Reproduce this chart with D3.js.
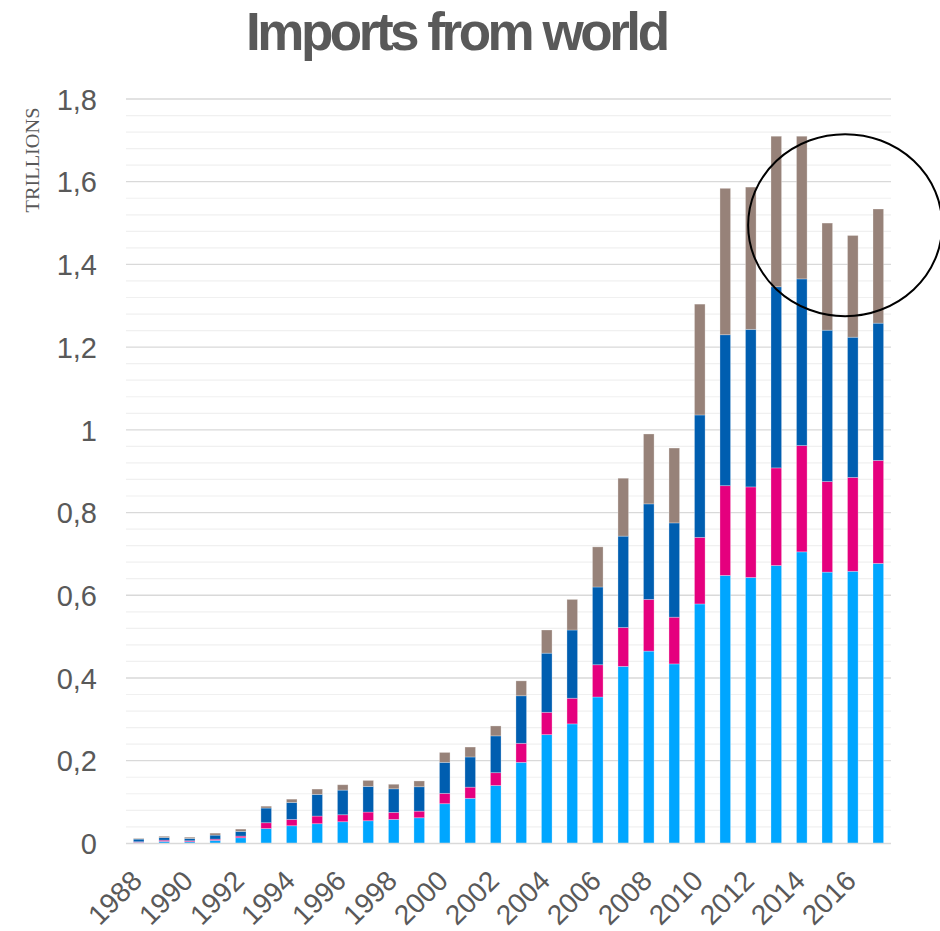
<!DOCTYPE html>
<html>
<head>
<meta charset="utf-8">
<script src="https://cdn.jsdelivr.net/npm/d3@7"></script>
<style>
  html, body { margin: 0; padding: 0; background: #fff; }
  svg { display: block; }
</style>
</head>
<body>
<svg id="chart" width="940" height="931"></svg>
<script>
// ---- data (trillions) ----
const years = d3.range(1988, 2018).map(String);
const seriesNames = ["s1", "s2", "s3", "s4"];
const seriesColors = ["#00A6FF", "#E5007E", "#005EB0", "#978279"];
const s1 = [0.0024,0.0048,0.004,0.0073,0.0137,0.036,0.0427,0.0476,0.0524,0.0548,0.058,0.062,0.096,0.109,0.140,0.196,0.263,0.289,0.354,0.428,0.465,0.434,0.579,0.648,0.643,0.672,0.705,0.656,0.658,0.677];
const s2 = [0.0016,0.003,0.0024,0.003,0.004,0.014,0.0153,0.0185,0.0169,0.021,0.017,0.016,0.025,0.027,0.031,0.046,0.054,0.062,0.078,0.094,0.125,0.113,0.161,0.217,0.219,0.236,0.257,0.219,0.227,0.249];
const s3 = [0.0064,0.0064,0.0056,0.0097,0.0113,0.0355,0.041,0.0524,0.0596,0.062,0.057,0.059,0.075,0.073,0.089,0.115,0.143,0.165,0.188,0.221,0.231,0.228,0.296,0.365,0.381,0.438,0.403,0.366,0.339,0.332];
const s4 = [0.0016,0.003,0.003,0.0048,0.0056,0.0045,0.008,0.0129,0.0129,0.0145,0.011,0.014,0.024,0.024,0.024,0.036,0.056,0.074,0.097,0.140,0.169,0.181,0.268,0.354,0.344,0.364,0.345,0.259,0.246,0.276];
const yTickValues = [0, 0.2, 0.4, 0.6, 0.8, 1.0, 1.2, 1.4, 1.6, 1.8];
const yTickLabels = ["0", "0,2", "0,4", "0,6", "0,8", "1", "1,2", "1,4", "1,6", "1,8"];
const xTickLabels = years.filter((d, i) => i % 2 === 0);
const titleText = "Imports from world";
const yAxisTitle = "TRILLIONS";

(function () {
// ---- table ----
const table = years.map((yr, i) => ({ year: yr, s1: s1[i], s2: s2[i], s3: s3[i], s4: s4[i] }));
const stacked = d3.stack().keys(seriesNames)(table);

// ---- layout ----
const svg = d3.select("#chart");
const pLeft = 126, pRight = 891, pBottom = 843.4, pTop = 99;

const x = d3.scaleBand().domain(years).range([pLeft, pRight]).paddingInner(0.584).paddingOuter(0.29);
const y = d3.scaleLinear().domain([0, 1.8]).range([pBottom, pTop]);
const color = d3.scaleOrdinal().domain(seriesNames).range(seriesColors);

// minor gridlines
const minor = d3.range(1, 45).map(i => i * 0.04).filter(v => Math.abs(v / 0.2 - Math.round(v / 0.2)) > 1e-6);
svg.append("g").selectAll("line").data(minor).join("line")
  .attr("x1", pLeft).attr("x2", pRight)
  .attr("y1", d => y(d)).attr("y2", d => y(d))
  .attr("stroke", "#f0f0f0").attr("stroke-width", 1.2);

// major gridlines
svg.append("g").selectAll("line").data(yTickValues.slice(1)).join("line")
  .attr("x1", pLeft).attr("x2", pRight)
  .attr("y1", d => y(d)).attr("y2", d => y(d))
  .attr("stroke", "#d9d9d9").attr("stroke-width", 1.3);

// y axis labels via d3 axis
const yAxis = d3.axisLeft(y).tickValues(yTickValues)
  .tickFormat((d, i) => yTickLabels[i]).tickSize(0).tickPadding(0);
const yg = svg.append("g").attr("transform", `translate(97,0)`).call(yAxis);
yg.select(".domain").remove();
yg.selectAll("text")
  .attr("font-family", "'Liberation Sans', Arial, sans-serif")
  .attr("font-size", 29).attr("fill", "#595959").attr("dy", "0.35em");

// bars
svg.append("g").selectAll("g").data(stacked).join("g")
  .attr("fill", d => color(d.key))
  .selectAll("rect").data(d => d).join("rect")
  .attr("x", d => x(d.data.year))
  .attr("width", x.bandwidth())
  .attr("y", d => y(d[1]))
  .attr("height", d => y(d[0]) - y(d[1]))
  .attr("stroke", "rgba(255,255,255,0.35)").attr("stroke-width", 0.8);

// baseline
svg.append("line").attr("x1", pLeft).attr("x2", pRight)
  .attr("y1", y(0)).attr("y2", y(0))
  .attr("stroke", "#d9d9d9").attr("stroke-width", 1.5);

// x axis labels
const xAxis = d3.axisBottom(x).tickValues(xTickLabels).tickSize(0).tickPadding(0);
const xg = svg.append("g").attr("transform", `translate(0,${pBottom})`).call(xAxis);
xg.select(".domain").remove();
xg.selectAll("text")
  .attr("font-family", "'Liberation Sans', Arial, sans-serif")
  .attr("font-size", 28).attr("fill", "#595959")
  .attr("text-anchor", "end")
  .attr("y", 0)
  .attr("dy", 0)
  .attr("transform", "translate(5,39) rotate(-45)");

// y axis title
svg.append("text")
  .attr("transform", "translate(39,160) rotate(-90)")
  .attr("text-anchor", "middle")
  .attr("font-family", "'Liberation Serif', 'Times New Roman', serif")
  .attr("font-size", 19).attr("fill", "#595959")
  .attr("textLength", 105).attr("lengthAdjust", "spacingAndGlyphs")
  .text(yAxisTitle);

// title
svg.append("text")
  .attr("x", 246).attr("y", 50)
  .attr("font-family", "'Liberation Sans', Arial, sans-serif")
  .attr("font-size", 53).attr("font-weight", "bold").attr("fill", "#595959")
  .attr("textLength", 424).attr("lengthAdjust", "spacing")
  .text(titleText);

// annotation circle around 2013-2017
const cx = x("2015") + x.step() * 0.7 + x.bandwidth() / 2;
svg.append("ellipse")
  .attr("cx", cx).attr("cy", y(1.495))
  .attr("rx", 97).attr("ry", 91)
  .attr("fill", "none").attr("stroke", "#000").attr("stroke-width", 2);
})();
</script>
</body>
</html>
